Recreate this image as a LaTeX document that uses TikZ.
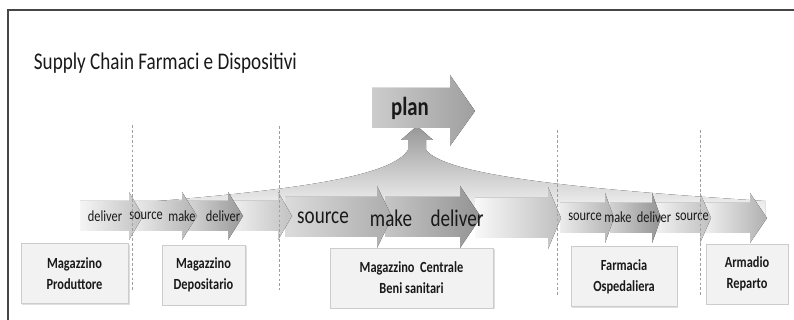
\documentclass[tikz,border=0pt]{standalone}
\usepackage{fontspec}
\setmainfont{Carlito}[FakeStretch=0.8]
\usetikzlibrary{shadows}

\begin{document}
\begin{tikzpicture}[x=0.025cm,y=-0.025cm,
ink/.style={text=black!90},
lbl/.style={ink,font=\fontsize{11}{12}\selectfont,inner sep=1pt},
biglbl/.style={ink,font=\fontsize{17}{18}\selectfont,inner sep=1pt},
site/.style={draw=gray!40,fill=gray!10,minimum height=1.5cm,align=center,ink,font=\bfseries\fontsize{11}{15}\selectfont,
  drop shadow={opacity=.25,shadow xshift=1pt,shadow yshift=-1pt}},
border/.style={gray!75,line width=.4pt,dash pattern=on 2pt off 1.5pt},
frame/.style={draw=gray!55!black,line width=1pt}]
\useasboundingbox (0,0) rectangle (794,320);
\draw[frame] (794,10) -- (8,10) -- (8,320);
\node[ink,anchor=west,font=\fontsize{17}{18}\selectfont] (title) at (29,63) {Supply Chain Farmaci e Dispositivi};
% fan rising to plan
\fill[top color=gray!82,bottom color=gray!5,middle color=gray!42]
  (133,203) .. controls (300,190) and (392,176) .. (408,150) -- (408,140) -- (401,140) -- (417,126)
  -- (433,140) -- (426,140) -- (426,150) .. controls (445,174) and (560,188) .. (765,201) -- (765,215) -- (133,215) -- cycle;
% plan arrow
\fill[left color=gray!40,right color=gray!75] (372,88) -- (450,88) -- (450,75) -- (475,111) -- (450,146) -- (450,128) -- (372,128) -- cycle;
\node[ink,font=\bfseries\fontsize{18.5}{20}\selectfont] (plan) at (410,108) {plan};
% process arrows, drawn right to left
\foreach \xa/\xb/\xc/\yc/\bh/\hh/\cl/\cr in {700/750/767/218/15/25/8/62, 655/700/711/218/15/25/10/50,
  610/652/661/218/15/25/35/85, 560/605/614/218/15/25/15/60, 475/548/561/218/20/31/5/50,
  385/460/481/217/20/31/45/85, 285/377/392/217/20/31/28/65, 232/278/292/216/15/24/12/48,
  185/228/243/216/15/24/30/80, 133/182/197/216/15/24/15/60, 80/129/143/216/15/24/8/48}
  \fill[left color=gray!\cl,right color=gray!\cr] (\xa,{\yc-\bh}) -- (\xb,{\yc-\bh}) -- (\xb,{\yc-\hh}) -- (\xc,\yc)
    -- (\xb,{\yc+\hh}) -- (\xb,{\yc+\bh}) -- (\xa,{\yc+\bh}) -- cycle;
\node[lbl] (del1) at (105,216) {deliver};
\node[lbl] (src1) at (146,216) {source};
\node[lbl] (mak1) at (182,216) {make};
\node[lbl] (del2) at (223,216) {deliver};
\node[biglbl] (src2) at (323,218) {source};
\node[biglbl] (mak2) at (391,218) {make};
\node[biglbl] (del3) at (457,218) {deliver};
\node[lbl] (src3) at (585,217) {source};
\node[lbl] (mak3) at (618,217) {make};
\node[lbl] (del4) at (654,217) {deliver};
\node[lbl] (src4) at (692,217) {source};
% borders between sites
\foreach \x/\ya/\yb in {132/125/290, 279/126/290, 557/130/295, 700/130/295}
  \draw[border] (\x,\ya) -- (\x,\yb);
% sites
\node[site,minimum width=2.68cm] (prod) at (74.5,273.5) {Magazzino\\Produttore};
\node[site,minimum width=2.08cm] (dep) at (203.5,275) {Magazzino\\Depositario};
\node[site,minimum width=4.08cm] (cent) at (411.5,278) {Magazzino\ \ Centrale\\Beni sanitari};
\node[site,minimum width=2.65cm] (farm) at (624,276.5) {Farmacia\\Ospedaliera};
\node[site,minimum width=2.05cm] (arm) at (747,274) {Armadio\\Reparto};
\end{tikzpicture}
\end{document}
